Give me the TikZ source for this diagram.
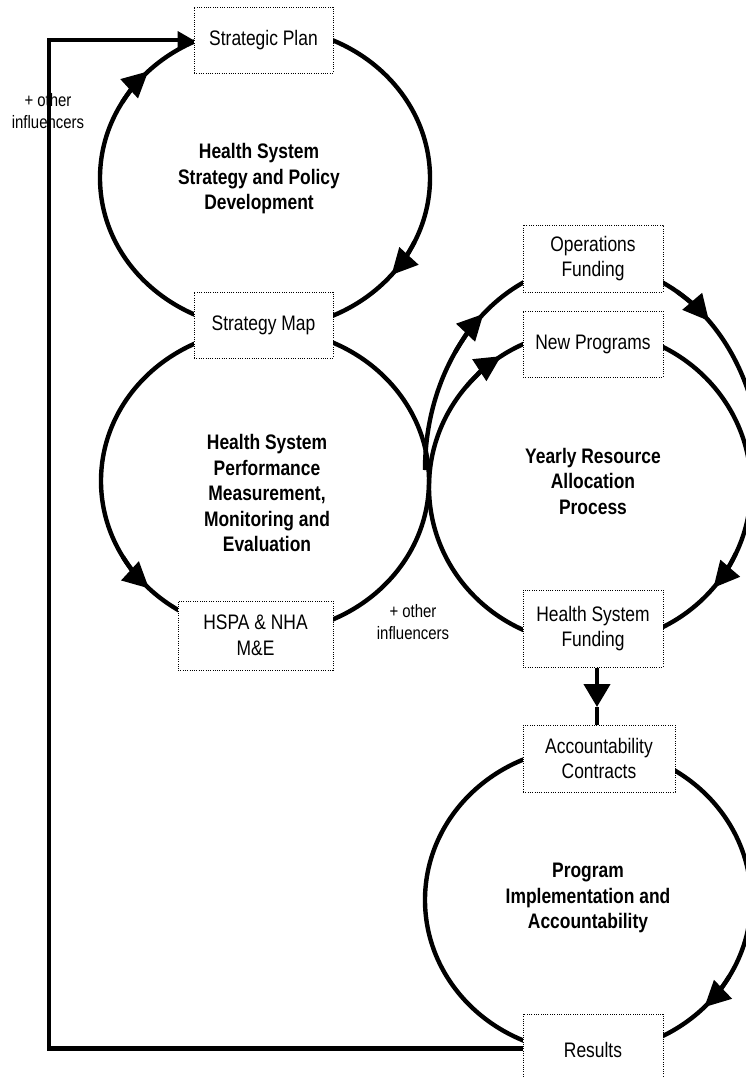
\documentclass[tikz,border=0pt]{standalone}
\usepackage{fontspec}
\setmainfont{Liberation Sans}[FakeStretch=0.83]
\usetikzlibrary{arrows.meta}
\newcommand{\ellarc}[6]{\draw[#1] ([shift={(#5:#3 and #4)}]#2) arc[start angle=#5, end angle=#6, x radius=#3, y radius=#4];}
\begin{document}
\begin{tikzpicture}[x=1pt,y=1pt,
  arcline/.style={line width=4.4pt},
  headarc/.style={-{Triangle[length=26pt,width=25pt]}},
  dbox/.style={draw, line width=1pt, dash pattern=on 1pt off 1.3pt, fill=white, align=center, inner sep=0pt, font=\fontsize{21}{25.5}\selectfont},
  lbl/.style={align=center, font=\bfseries\fontsize{21}{25.5}\selectfont},
  smalllbl/.style={align=center, font=\fontsize{18}{22}\selectfont}]
\useasboundingbox (0,0) rectangle (745,-1077);

% loops
\draw[arcline] (265,-178) ellipse[x radius=165pt, y radius=151pt];
\draw[arcline] (265,-481) ellipse[x radius=164pt, y radius=152pt];
\draw[arcline] (590,-487) ellipse[x radius=161pt, y radius=157pt];
\draw[arcline] (588,-900) ellipse[x radius=163pt, y radius=153pt];
\ellarc{arcline}{593,-470}{168pt}{206pt}{180}{-10}

% arrowheads on loops
\ellarc{arcline,headarc}{265,-178}{165pt}{151pt}{150}{135}
\ellarc{arcline,headarc}{265,-178}{165pt}{151pt}{-25}{-40}
\ellarc{arcline,headarc}{265,-481}{164pt}{152pt}{210}{225}
\ellarc{arcline,headarc}{590,-487}{161pt}{157pt}{140}{123.5}
\ellarc{arcline,headarc}{590,-487}{161pt}{157pt}{-25}{-40}
\ellarc{arcline,headarc}{593,-470}{168pt}{206pt}{145}{130.7}
\ellarc{arcline,headarc}{593,-470}{168pt}{206pt}{60}{46.3}
\ellarc{arcline,headarc}{588,-900}{163pt}{153pt}{-30}{-44.5}

% boxes
\node[dbox, minimum width=139pt, minimum height=66pt] (sp) at (263.5,-40) {Strategic Plan};
\node[dbox, minimum width=139pt, minimum height=66pt] (sm) at (263.5,-325) {Strategy Map};
\node[dbox, minimum width=155pt, minimum height=69pt] (hspa) at (255.5,-635.5) {HSPA \& NHA\\M\&E};
\node[dbox, minimum width=140pt, minimum height=67pt] (of) at (593,-258.5) {Operations\\Funding};
\node[dbox, minimum width=140pt, minimum height=66pt] (np) at (593,-344) {New Programs};
\node[dbox, minimum width=140pt, minimum height=77pt] (hsf) at (593,-628.5) {Health System\\Funding};
\node[dbox, minimum width=152pt, minimum height=67pt] (ac) at (599,-758.5) {Accountability\\Contracts};
\node[dbox, minimum width=140pt, minimum height=72pt] (res) at (593,-1050) {Results};

% loop titles
\node[lbl] (l1) at (259,-179) {Health System\\Strategy and Policy\\Development};
\node[lbl] (l2) at (267,-493) {Health System\\Performance\\Measurement,\\Monitoring and\\Evaluation};
\node[lbl] (l3) at (593,-481) {Yearly Resource\\Allocation\\Process};
\node[lbl] (l4) at (588,-898) {Program\\Implementation and\\Accountability};
\node[smalllbl] (o1) at (48,-111) {+ other\\influencers};
\node[smalllbl] (o2) at (413,-622) {+ other\\influencers};

% connectors
\coordinate (hm) at (597,-707);
\draw[line width=4.4pt, -{Triangle[length=23pt,width=26pt]}] (hsf.south -| hm) -- (hm);
\draw[line width=4.4pt] (hm) -- (hm |- ac.north);
\coordinate (fb) at (49,-1048.5);
\draw[line width=4.4pt, -{Triangle[length=16pt,width=17pt]}] (res.west |- fb) -- (fb) |- (sp.west);
\end{tikzpicture}
\end{document}
